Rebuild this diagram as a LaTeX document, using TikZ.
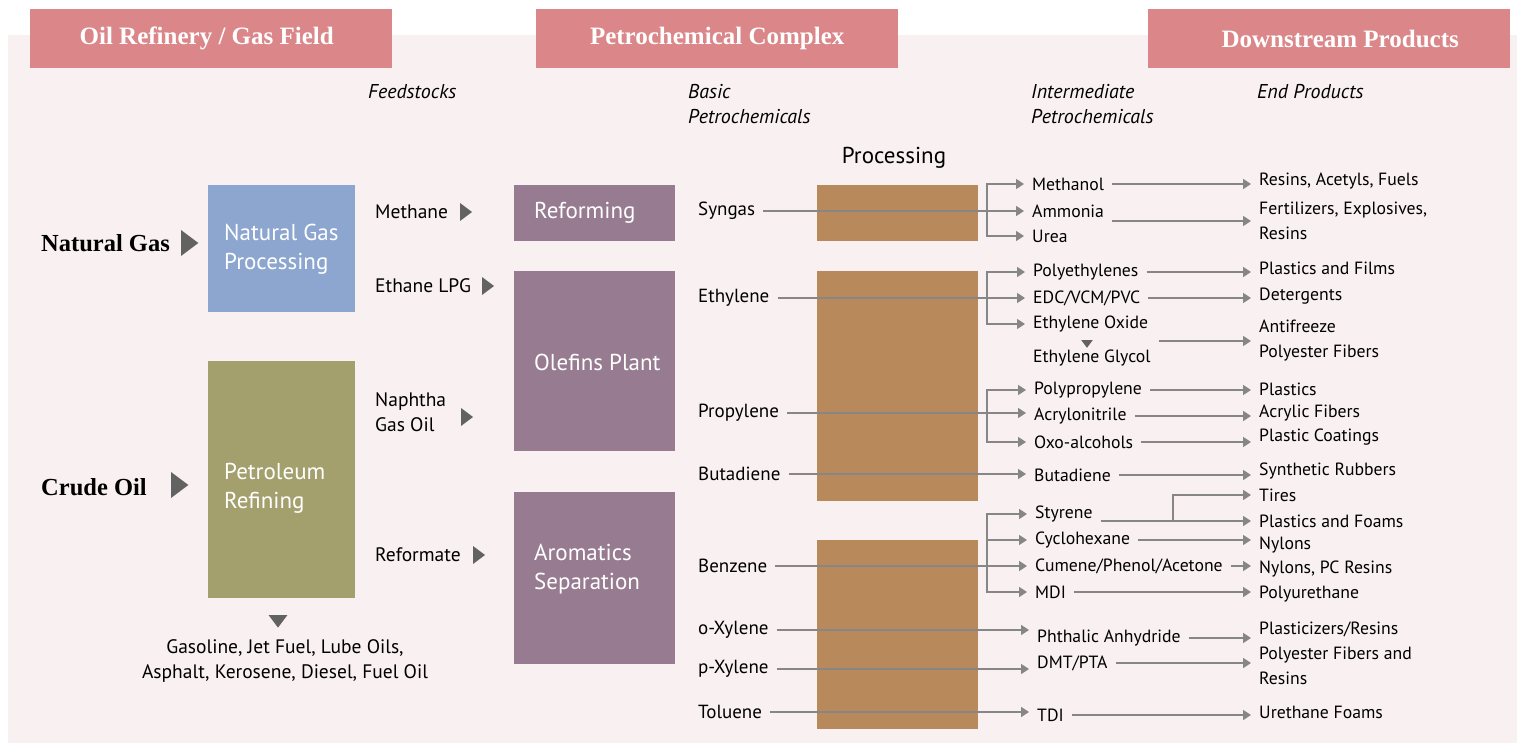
\documentclass[tikz,border=0pt]{standalone}
\usepackage{fontspec}
\setmainfont{Liberation Serif}
\setsansfont{PT Sans}
\usepackage{xcolor}
\usepackage{tikz}
\usetikzlibrary{arrows.meta, positioning, calc}

\definecolor{sheet}{HTML}{F9F0F1}
\definecolor{headred}{HTML}{DB8689}
\definecolor{gasblue}{HTML}{8CA6CF}
\definecolor{oilgreen}{HTML}{A3A06E}
\definecolor{plantpurple}{HTML}{977B91}
\definecolor{procbrown}{HTML}{B8895A}
\definecolor{linegray}{HTML}{868686}
\definecolor{markgray}{HTML}{626262}

\tikzset{
    header/.style={rectangle, fill=headred, text=white, anchor=north west, minimum width=362, minimum height=59, inner sep=0, font=\bfseries\fontsize{25}{28}\selectfont},
    plant/.style={rectangle, fill=#1, anchor=north west, inner sep=0},
    plantlabel/.style={anchor=west, inner sep=0, align=left, text=white, font=\sffamily\fontsize{23}{29}\selectfont},
    procbox/.style={rectangle, fill=procbrown, anchor=north west, minimum width=161, inner sep=0},
    chem/.style={anchor=west, inner xsep=8, inner ysep=2, align=left, font=\sffamily\fontsize{#1}{25}\selectfont},
    chem/.default=17.7,
    coltitle/.style={anchor=west, inner sep=0, align=left, font=\sffamily\itshape\fontsize{20}{25}\selectfont},
    source/.style={anchor=west, inner sep=0, font=\bfseries\fontsize{24.5}{28}\selectfont},
    flow/.style={draw=linegray, line width=1.6pt, -{Triangle[length=8pt,width=10pt]}},
    fork/.style={draw=linegray, line width=1.6pt, {Triangle[length=8pt,width=10pt]}-{Triangle[length=8pt,width=10pt]}},
    feed/.pic={\fill[markgray] (0,-9) -- (12,0) -- (0,9) -- cycle;},
    down/.pic={\fill[markgray] (-9,0) -- (9,0) -- (0,12) -- cycle;}
}

\begin{document}
\begin{tikzpicture}[x=1pt, y=-1pt]
    \useasboundingbox (0,0) rectangle (1517,743);
    \fill[white] (0,0) rectangle (1517,743);
    \fill[sheet] (8,35) rectangle (1517,743);

    % Headers
    \node[header] (hrefinery) at (30,9) {Oil Refinery / Gas Field\hspace*{9pt}};
    \node[header] (hcomplex) at (536,9) {Petrochemical Complex};
    \node[header] (hdown) at (1148,9) {\hspace*{22pt}Downstream Products};

    % Column titles
    \node[coltitle] (tfeed) at (368,92) {Feedstocks};
    \node[coltitle] (tbasic) at (688,104) {Basic\\Petrochemicals};
    \node[coltitle] (tinter) at (1031,104) {Intermediate\\Petrochemicals};
    \node[coltitle] (tend) at (1257,92) {End Products};
    \node[font=\sffamily\fontsize{23}{26}\selectfont] (tproc) at (894,158) {Processing};

    % Raw sources
    \node[source] (ngas) at (41,243) {Natural Gas};
    \node[source] (crude) at (41,487) {Crude Oil};
    \pic[scale=1.45] at (181,243) {feed};
    \pic[scale=1.45] at (171,485) {feed};

    % Oil refinery / gas field units
    \node[plant=gasblue, minimum width=147, minimum height=127] (ngp) at (208,185) {};
    \node[plantlabel] (ngptext) at (224,249) {Natural Gas\\Processing};
    \node[plant=oilgreen, minimum width=147, minimum height=237] (refining) at (208,361) {};
    \node[plantlabel] (refiningtext) at (224,488) {Petroleum\\Refining};
    \pic[scale=1.05] at (278,615) {down};
    \node[chem=19.5, anchor=center, align=center] (fuels) at (285,661) {Gasoline, Jet Fuel, Lube Oils,\\Asphalt, Kerosene, Diesel, Fuel Oil};

    % Feedstocks
    \node[chem=19.5] (methane) at (367,212) {Methane};
    \node[chem=19.5] (ethane) at (367,286) {Ethane LPG};
    \node[chem=19.5] (naphtha) at (367,412) {Naphtha\\Gas Oil};
    \node[chem=19.5] (reformate) at (367,555) {Reformate};
    \pic at (460,212) {feed};
    \pic at (482,286) {feed};
    \pic at (461,417) {feed};
    \pic at (473,555) {feed};

    % Petrochemical plants
    \node[plant=plantpurple, minimum width=161, minimum height=56] (reforming) at (514,185) {};
    \node[plantlabel] (reformingtext) at (534,213) {Reforming};
    \node[plant=plantpurple, minimum width=161, minimum height=180] (olefins) at (514,271) {};
    \node[plantlabel] (olefinstext) at (534,362) {Olefins Plant};
    \node[plant=plantpurple, minimum width=161, minimum height=172] (aromatics) at (514,492) {};
    \node[plantlabel] (aromaticstext) at (534,569) {Aromatics\\Separation};

    % Processing
    \node[procbox, minimum height=56] (procA) at (817,185) {};
    \node[procbox, minimum height=230] (procB) at (817,271) {};
    \node[procbox, minimum height=189] (procC) at (817,540) {};
    \coordinate (brk) at (987,0);

    % Basic petrochemicals
    \node[chem=19] (syngas) at (690,211) {Syngas};
    \node[chem=19] (ethylene) at (690,298) {Ethylene};
    \node[chem=19] (propylene) at (690,413) {Propylene};
    \node[chem=19] (butadiene) at (690,474) {Butadiene};
    \node[chem=19] (benzene) at (690,566) {Benzene};
    \node[chem=19] (oxylene) at (690,630) {o-Xylene};
    \node[chem=19] (pxylene) at (690,669) {p-Xylene};
    \node[chem=19] (toluene) at (690,712) {Toluene};

    % Intermediate petrochemicals
    \node[chem] (methanol) at (1024,184) {Methanol};
    \node[chem] (ammonia) at (1024,211) {Ammonia};
    \node[chem] (urea) at (1024,236) {Urea};
    \node[chem] (polyeth) at (1025,272) {Polyethylenes};
    \node[chem] (edc) at (1025,298) {EDC/VCM/PVC};
    \node[chem] (eoxide) at (1025,324) {Ethylene Oxide};
    \node[chem] (eglycol) at (1025,358) {Ethylene Glycol};
    \node[chem] (polyprop) at (1026,390) {Polypropylene};
    \node[chem] (acn) at (1026,416) {Acrylonitrile};
    \node[chem] (oxo) at (1026,442) {Oxo-alcohols};
    \node[chem] (butint) at (1026,475) {Butadiene};
    \node[chem] (styrene) at (1027,514) {Styrene};
    \node[chem] (cyclo) at (1027,540) {Cyclohexane};
    \node[chem] (cumene) at (1027,566) {Cumene/Phenol/Acetone};
    \node[chem] (mdi) at (1027,592) {MDI};
    \node[chem] (phthalic) at (1029,638) {Phthalic Anhydride};
    \node[chem] (dmt) at (1029,663) {DMT/PTA};
    \node[chem] (tdi) at (1029,715) {TDI};
    \pic[scale=0.65] at (1087,340) {down};

    % End products
    \node[chem] (resins) at (1251,181) {Resins, Acetyls, Fuels};
    \node[chem] (fert) at (1251,221) {Fertilizers, Explosives,\\Resins};
    \node[chem] (pfilms) at (1251,268) {Plastics and Films};
    \node[chem] (deterg) at (1251,296) {Detergents};
    \node[chem] (antifreeze) at (1251,341) {Antifreeze\\Polyester Fibers};
    \node[chem] (plastics) at (1251,389) {Plastics};
    \node[chem] (acrylic) at (1251,413) {Acrylic Fibers};
    \node[chem] (coatings) at (1251,437) {Plastic Coatings};
    \node[chem] (synrub) at (1251,471) {Synthetic Rubbers};
    \node[chem] (tires) at (1251,495) {Tires};
    \node[chem] (pfoams) at (1251,521) {Plastics and Foams};
    \node[chem] (nylons) at (1251,545) {Nylons};
    \node[chem] (nylonspc) at (1251,569) {Nylons, PC Resins};
    \node[chem] (polyur) at (1251,594) {Polyurethane};
    \node[chem] (plasticizers) at (1251,629) {Plasticizers/Resins};
    \node[chem] (polyester) at (1251,666) {Polyester Fibers and\\Resins};
    \node[chem] (urefoam) at (1251,712) {Urethane Foams};

    % Basic -> intermediate
    \draw[flow] (syngas.east) -- (syngas.east -| ammonia.west);
    \draw[fork] (methanol.west) -| (brk |- urea.west) -- (urea.west);
    \draw[flow] (ethylene.east) -- (ethylene.east -| edc.west);
    \draw[fork] (polyeth.west) -| (brk |- eoxide.west) -- (eoxide.west);
    \draw[flow] (propylene.east) -- (propylene.east -| acn.west);
    \draw[fork] (polyprop.west) -| (brk |- oxo.west) -- (oxo.west);
    \draw[flow] (butadiene.east) -- (butadiene.east -| butint.west);
    \draw[flow] (benzene.east) -- (benzene.east -| cumene.west);
    \draw[fork] (styrene.west) -| (brk |- mdi.west) -- (mdi.west);
    \draw[flow] (brk |- cyclo.west) -- (cyclo.west);
    \draw[flow] (oxylene.east) -- (oxylene.east -| phthalic.west);
    \draw[flow] (pxylene.east) -- (pxylene.east -| dmt.west);
    \draw[flow] (toluene.east) -- (toluene.east -| tdi.west);

    % Intermediate -> end products
    \draw[flow] (methanol.east) -- (methanol.east -| resins.west);
    \draw[flow] (ammonia.east |- fert.west) -- (fert.west);
    \draw[flow] (polyeth.east) -- (polyeth.east -| pfilms.west);
    \draw[flow] (edc.east) -- (edc.east -| deterg.west);
    \draw[flow] (eglycol.east |- antifreeze.west) -- (antifreeze.west);
    \draw[flow] (polyprop.east) -- (polyprop.east -| plastics.west);
    \draw[flow] (acn.east) -- (acn.east -| acrylic.west);
    \draw[flow] (oxo.east) -- (oxo.east -| coatings.west);
    \draw[flow] (butint.east) -- (butint.east -| synrub.west);
    \draw[flow] (styrene.east |- pfoams.west) -- (pfoams.west);
    \coordinate (stysplit) at ($(styrene.east |- pfoams.west)!0.48!(pfoams.west)$);
    \draw[flow] (stysplit) |- (tires.west);
    \draw[flow] (cyclo.east) -- (cyclo.east -| nylons.west);
    \draw[flow] (cumene.east) -- (cumene.east -| nylonspc.west);
    \draw[flow] (mdi.east) -- (mdi.east -| polyur.west);
    \draw[flow] (phthalic.east) -- (phthalic.east -| plasticizers.west);
    \draw[flow] (dmt.east) -- (dmt.east -| polyester.west);
    \draw[flow] (tdi.east) -- (tdi.east -| urefoam.west);
\end{tikzpicture}
\end{document}
